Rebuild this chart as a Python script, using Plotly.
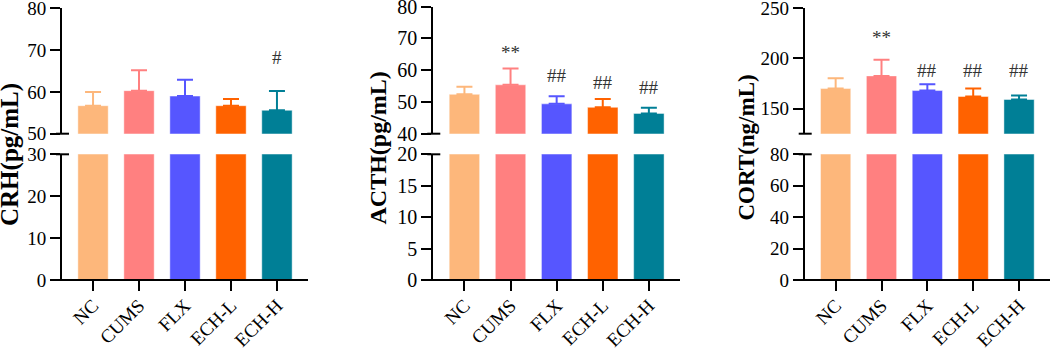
import plotly.graph_objects as go

W, H = 1052, 350

categories = ["NC", "CUMS", "FLX", "ECH-L", "ECH-H"]
colors = ["#FDB77B", "#FF8080", "#5656FF", "#FF6200", "#007F96"]

crh_mean = [56.7, 60.3, 59.0, 56.7, 55.6]
crh_sd = [3.3, 4.9, 3.9, 1.6, 4.6]
crh_sig = ["", "", "", "", "#"]
crh_sig_y = [None, None, None, None, 68.2]

acth_mean = [52.4, 55.4, 49.4, 48.3, 46.4]
acth_sd = [2.4, 5.1, 2.4, 2.6, 1.8]
acth_sig = ["", "**", "##", "##", "##"]
acth_sig_y = [None, 66.4, 58.2, 56.1, 54.6]

cort_mean = [169.9, 182.5, 167.9, 162.0, 159.0]
cort_sd = [10.3, 16.0, 6.3, 7.9, 4.0]
cort_sig = ["", "**", "##", "##", "##"]
cort_sig_y = [None, 223.2, 187.4, 187.4, 187.4]

FONT = "Liberation Serif"

panels = [
    dict(mean=crh_mean, sd=crh_sd, sig=crh_sig, sig_y=crh_sig_y,
         title="CRH(pg/mL)", title_x=0, title_anchor="left", title_shift=-6, title_y=155, title_size=25,
         x0=62, x1=308, up_top=8.3,
         low_range=[0, 30], low_dtick=10,
         up_range=[50, 80], up_ticks=[50, 60, 70, 80], tick_size=19),
    dict(mean=acth_mean, sd=acth_sd, sig=acth_sig, sig_y=acth_sig_y,
         title="ACTH(pg/mL)", title_x=377.5, title_anchor="center", title_shift=0, title_y=148, title_size=24,
         x0=433.3, x1=680, up_top=6.7,
         low_range=[0, 20], low_dtick=5,
         up_range=[40, 80], up_ticks=[40, 50, 60, 70, 80], tick_size=20),
    dict(mean=cort_mean, sd=cort_sd, sig=cort_sig, sig_y=cort_sig_y,
         title="CORT(ng/mL)", title_x=745.5, title_anchor="center", title_shift=0, title_y=148, title_size=23,
         x0=804.7, x1=1050, up_top=8.0,
         low_range=[0, 80], low_dtick=20,
         up_range=[125, 250], up_ticks=[150, 200, 250], tick_size=19),
]

LOW_BOT, LOW_TOP, UP_BOT = 280, 154.3, 133.7

def py(p):
    return (H - p) / H

def px(p):
    return p / W

fig = go.Figure()
shapes = []
annotations = []
layout = {}

for i, P in enumerate(panels):
    xi = i + 1
    ylo = 2 * i + 1
    yup = 2 * i + 2
    xname = "x" if xi == 1 else f"x{xi}"
    ylo_name = "y" if ylo == 1 else f"y{ylo}"
    yup_name = f"y{yup}"

    # lower bars
    fig.add_trace(go.Bar(
        x=categories, y=P["mean"], xaxis=xname, yaxis=ylo_name,
        marker=dict(color=colors, line=dict(color="rgba(255,255,255,0.45)", width=1)),
        width=0.66, showlegend=False, hoverinfo="skip"))
    # upper bars with error bars
    for c, m, s, col in zip(categories, P["mean"], P["sd"], colors):
        fig.add_trace(go.Bar(
            x=[c], y=[m], xaxis=xname, yaxis=yup_name,
            marker=dict(color=col, line=dict(color="rgba(255,255,255,0.45)", width=1)),
            width=0.66, showlegend=False, hoverinfo="skip",
            error_y=dict(type="data", array=[s], arrayminus=[0], symmetric=False,
                         color=col, thickness=2, width=8)))

    layout[f"xaxis{'' if xi == 1 else xi}"] = dict(
        domain=[px(P["x0"]), px(P["x1"])], anchor=ylo_name,
        range=[-0.675, 4.675], type="category", automargin=False,
        showline=False, showgrid=False, zeroline=False,
        ticks="outside", ticklen=10, tickwidth=2, tickcolor="black",
        ticklabelstandoff=-4, ticklabeloverflow="allow",
        tickangle=-45, tickfont=dict(family=FONT, size=19, color="black"))
    layout[f"yaxis{'' if ylo == 1 else ylo}"] = dict(
        domain=[py(LOW_BOT), py(LOW_TOP)], anchor=xname, automargin=False,
        range=P["low_range"], dtick=P["low_dtick"], tick0=0,
        showline=True, linewidth=2, linecolor="black",
        showgrid=False, zeroline=False, ticklabeloverflow="allow",
        ticks="outside", ticklen=10, tickwidth=2, tickcolor="black",
        tickfont=dict(family=FONT, size=P["tick_size"], color="black"))
    layout[f"yaxis{yup}"] = dict(
        domain=[py(UP_BOT), py(P["up_top"])], anchor=xname, automargin=False,
        range=P["up_range"], tickmode="array", tickvals=P["up_ticks"],
        showline=True, linewidth=2, linecolor="black",
        showgrid=False, zeroline=False, ticklabeloverflow="allow",
        ticks="outside", ticklen=10, tickwidth=2, tickcolor="black",
        tickfont=dict(family=FONT, size=P["tick_size"], color="black"))

    # x-axis baseline (extends a little left of the y-axis)
    shapes.append(dict(type="line", xref="paper", yref="paper",
                       x0=px(P["x0"] - 10), x1=px(P["x1"]), y0=py(LOW_BOT), y1=py(LOW_BOT),
                       line=dict(color="black", width=2)))
    # axis break marks
    for yb in (UP_BOT, LOW_TOP):
        shapes.append(dict(type="line", xref="paper", yref="paper",
                           x0=px(P["x0"] - 6), x1=px(P["x0"] + 7), y0=py(yb), y1=py(yb),
                           line=dict(color="black", width=2)))

    # y titles
    annotations.append(dict(text=f"<b>{P['title']}</b>", xref="paper", yref="paper",
                            x=px(P["title_x"]), y=py(P["title_y"]), textangle=-90,
                            xshift=P["title_shift"],
                            showarrow=False, xanchor=P["title_anchor"], yanchor="middle",
                            font=dict(family=FONT, size=P["title_size"], color="black")))
    # significance marks
    for c, s, yv in zip(categories, P["sig"], P["sig_y"]):
        if s:
            annotations.append(dict(text=s, xref=xname, yref=yup_name, x=c, y=yv,
                                    showarrow=False, xanchor="center", yanchor="middle",
                                    yshift=-3 if s.startswith("*") else 0,
                                    font=dict(family=FONT, size=19, color="#333333")))

fig.update_layout(
    width=W, height=H,
    margin=dict(l=0, r=0, t=0, b=0, autoexpand=False),
    paper_bgcolor="white", plot_bgcolor="white",
    barmode="overlay", bargap=0.34,
    shapes=shapes, annotations=annotations,
    **layout)

fig.write_html("out.html", config={"displayModeBar": False},
               post_script="document.body.style.margin='0';document.body.style.overflow='hidden';")
